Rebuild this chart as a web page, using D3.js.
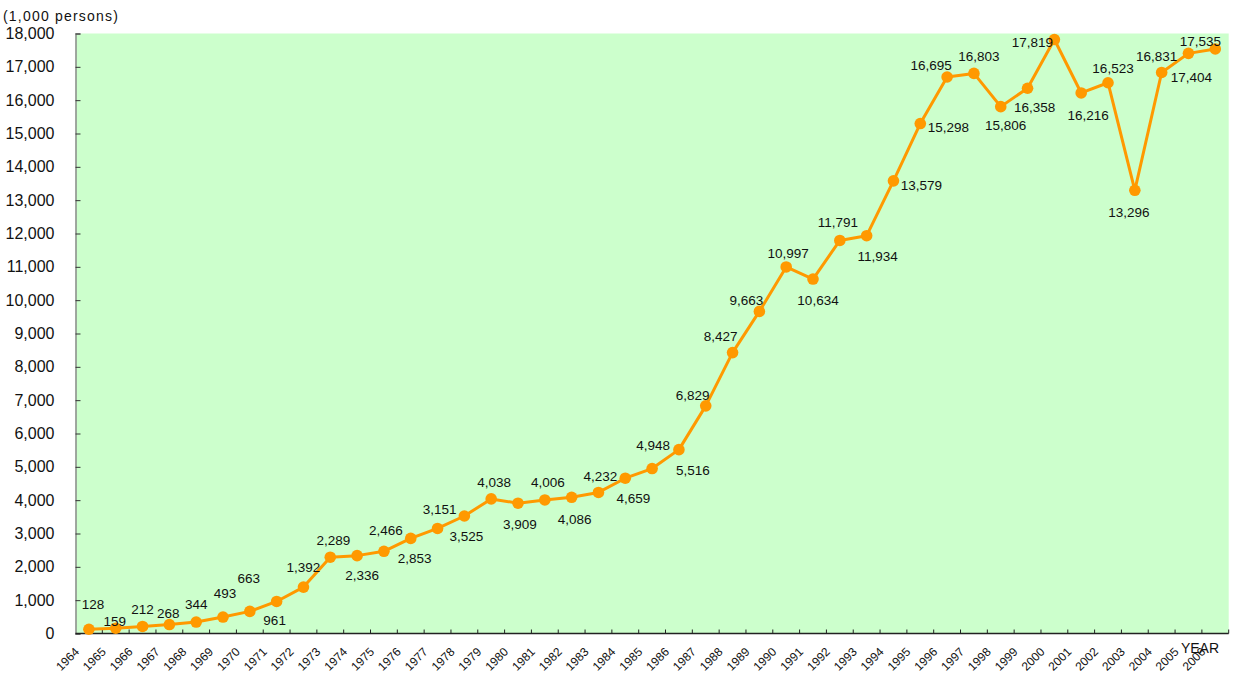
<!DOCTYPE html>
<html>
<head>
<meta charset="utf-8">
<script src="https://cdn.jsdelivr.net/npm/d3@7"></script>
<style>
  html, body { margin: 0; padding: 0; background: #ffffff; }
  svg { display: block; }
  text { font-family: "Liberation Sans", Arial, sans-serif; fill: #111; }
</style>
</head>
<body>
<svg id="chart" width="1233" height="677"></svg>
<script>
// ---- data ----
const years = ["1964","1965","1966","1967","1968","1969","1970","1971","1972","1973",
  "1974","1975","1976","1977","1978","1979","1980","1981","1982","1983",
  "1984","1985","1986","1987","1988","1989","1990","1991","1992","1993",
  "1994","1995","1996","1997","1998","1999","2000","2001","2002","2003",
  "2004","2005","2006"];
const travellers = [128,159,212,268,344,493,663,961,1392,2289,
  2336,2466,2853,3151,3525,4038,3909,4006,4086,4232,
  4659,4948,5516,6829,8427,9663,10997,10634,11791,11934,
  13579,15298,16695,16803,15806,16358,17819,16216,16523,13296,
  16831,17404,17535];
const yTickValues = [0,1000,2000,3000,4000,5000,6000,7000,8000,9000,
  10000,11000,12000,13000,14000,15000,16000,17000,18000];
const yUnitLabel = "(1,000 persons)";
const xAxisLabel = "YEAR";

// ---- label placement (offset of label centre from its point, px) ----
const labelOffsets = [[4,-25],[-1,-7],[0,-17],[-1,-11],[0,-18],[2,-24],[-1,-33],[-2,19],[0,-20],[3,-17],
  [5,20],[2,-21],[4,20],[2,-19],[2,20],[3,-17],[2,21],[3,-18],[3,22],[2,-16],
  [8,20],[1,-23],[14,21],[-13,-11],[-12,-16],[-13,-11],[2,-14],[5,21],[-2,-18],[11,20],
  [28,4],[28,4],[-16,-12],[5,-17],[5,19],[7,19],[-22,3],[7,22],[5,-15],[-6,22],
  [-5,-16],[3,24],[-15,-8]];

// ---- layout ----
const svg = d3.select("#chart");
const plot = {left: 75.5, right: 1228.7, top: 33.5, bottom: 633.5};

const x = d3.scaleBand().domain(years).range([plot.left, plot.right]).paddingInner(0).paddingOuter(0);
const y = d3.scaleLinear().domain([0, 18000]).range([plot.bottom, plot.top]);

// plot background
svg.append("rect")
  .attr("x", plot.left).attr("y", plot.top)
  .attr("width", plot.right - plot.left).attr("height", plot.bottom - plot.top)
  .attr("fill", "#CCFFCC");

// y axis
const yAxis = d3.axisLeft(y).tickValues(yTickValues).tickSize(-5).tickPadding(21)
  .tickFormat(d3.format(","));
const gy = svg.append("g").attr("transform", `translate(${plot.left},0)`).call(yAxis);
gy.select(".domain").attr("stroke", "#8a8a8a").attr("stroke-width", 1.5);
gy.selectAll(".tick line").attr("stroke", "#333");
gy.selectAll(".tick text").attr("font-size", 16).attr("fill", "#111")
  .style("font-family", "'Liberation Sans', Arial, sans-serif");

// x axis: ticks at band boundaries
const boundaries = years.map(d => x(d)).concat([plot.right]);
const gx = svg.append("g");
gx.append("line").attr("x1", plot.left).attr("x2", plot.right)
  .attr("y1", plot.bottom).attr("y2", plot.bottom)
  .attr("stroke", "#222").attr("stroke-width", 1.5);
gx.selectAll("line.xt").data(boundaries.slice(1)).enter().append("line")
  .attr("class", "xt")
  .attr("x1", d => d).attr("x2", d => d)
  .attr("y1", plot.bottom).attr("y2", plot.bottom - 4)
  .attr("stroke", "#222").attr("stroke-width", 1);
gx.selectAll("text.xl").data(years).enter().append("text")
  .attr("class", "xl")
  .attr("text-anchor", "end")
  .attr("font-size", 12)
  .attr("transform", d => `translate(${x(d) + x.bandwidth()/2 - 9},${plot.bottom + 19}) rotate(-45)`)
  .text(d => d);

// axis titles
svg.append("text").attr("x", 3).attr("y", 21).attr("font-size", 14)
  .attr("letter-spacing", 1.2).text(yUnitLabel);
svg.append("text").attr("x", 1200).attr("y", 653).attr("text-anchor", "middle")
  .attr("font-size", 14).text(xAxisLabel);

// line
const cx = (d, i) => x(years[i]) + x.bandwidth() / 2;
const line = d3.line().x((d, i) => cx(d, i)).y(d => y(d));
svg.append("path").datum(travellers)
  .attr("fill", "none").attr("stroke", "#FF9900").attr("stroke-width", 3)
  .attr("stroke-linejoin", "round")
  .attr("d", line);

// markers
svg.selectAll("circle.pt").data(travellers).enter().append("circle")
  .attr("class", "pt")
  .attr("cx", (d, i) => cx(d, i))
  .attr("cy", d => y(d))
  .attr("r", 5.8)
  .attr("fill", "#FF9900");

// data labels
const fmt = d3.format(",");
svg.selectAll("text.dl").data(travellers).enter().append("text")
  .attr("class", "dl")
  .attr("text-anchor", "middle")
  .attr("font-size", 13.5)
  .attr("x", (d, i) => cx(d, i) + labelOffsets[i][0])
  .attr("y", (d, i) => y(d) + labelOffsets[i][1])
  .attr("dy", "0.36em")
  .text(d => fmt(d));
</script>
</body>
</html>
